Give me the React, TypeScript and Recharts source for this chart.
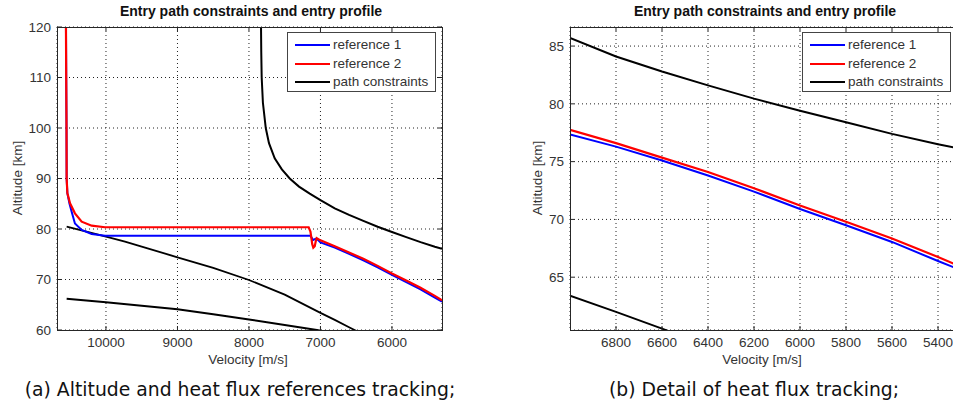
import { LineChart, Line, XAxis, YAxis, CartesianGrid } from 'recharts'

// velocity [m/s], altitude [km] pairs
const reference1: [number, number][] = [
  [10560, 121], [10556, 110], [10552, 100], [10550, 90], [10540, 87.1], [10510, 85],
  [10480, 83.4], [10434, 81.1], [10340, 79.8], [10200, 79.0], [10014, 78.67],
  [9000, 78.67], [8000, 78.67], [7140, 78.67], [7120, 78.2], [7105, 77.8], [7080, 78.0],
  [7055, 78.1], [7000, 77.35], [6800, 76.3], [6600, 75.1], [6400, 73.8], [6200, 72.4],
  [6000, 70.9], [5800, 69.5], [5600, 68.05], [5400, 66.4], [5300, 65.6],
]

const reference2: [number, number][] = [
  [10560, 121], [10556, 110], [10552, 100], [10550, 90], [10540, 87.1], [10503, 85.1],
  [10434, 83.1], [10340, 81.45], [10200, 80.65], [10014, 80.35], [9000, 80.35],
  [8000, 80.35], [7165, 80.35], [7140, 79.5], [7115, 77], [7100, 76.3], [7080, 76.6],
  [7065, 77.6], [7053, 78.2], [7000, 77.75], [6800, 76.6], [6600, 75.35], [6400, 74.1],
  [6200, 72.7], [6000, 71.2], [5800, 69.8], [5600, 68.35], [5400, 66.75], [5300, 65.9],
]

const upperConstraint: [number, number][] = [
  [7832, 121], [7828, 115], [7822, 110], [7805, 105], [7765, 100], [7720, 97], [7640, 94],
  [7540, 91.8], [7430, 90], [7300, 88.4], [7150, 87], [7000, 85.7], [6800, 84.1],
  [6600, 82.8], [6400, 81.6], [6200, 80.45], [6000, 79.4], [5800, 78.4], [5600, 77.4],
  [5400, 76.5], [5300, 76.1],
]

const middleConstraint: [number, number][] = [
  [10550, 80.45], [10300, 79.6], [10000, 78.5], [9734, 77.5], [9500, 76.5], [9000, 74.4],
  [8500, 72.3], [8000, 69.9], [7500, 67.0], [7000, 63.4], [6800, 62.0], [6600, 60.55],
  [6400, 59.1],
]

const lowerConstraint: [number, number][] = [
  [10550, 66.2], [10000, 65.5], [9500, 64.8], [9000, 64.1], [8500, 63.1], [8000, 62.1],
  [7500, 61.0], [7050, 60.0], [6900, 59.6],
]

const leftXTicks = [10000, 9000, 8000, 7000, 6000]
const leftYTicks = [60, 70, 80, 90, 100, 110, 120]
const rightXTicks = [6800, 6600, 6400, 6200, 6000, 5800, 5600, 5400]
const rightYTicks = [65, 70, 75, 80, 85]

const legendItems = [
  { label: 'reference 1', color: '#0000ff' },
  { label: 'reference 2', color: '#ff0000' },
  { label: 'path constraints', color: '#000000' },
]

const toRows = (pts: [number, number][]) => pts.map(([v, h]) => ({ v, h }))

const tickFont = { fontFamily: '"Liberation Sans", Arial, sans-serif', fontSize: 13.5, fill: '#333' }

interface PanelProps {
  left: number
  width: number
  marginLeft: number
  marginRight: number
  xDomain: [number, number]
  yDomain: [number, number]
  xTicks: number[]
  yTicks: number[]
  legendLeft: number
  legendWidth: number
}

const PLOT_TOP = 27
const PLOT_BOTTOM = 330

function Panel(p: PanelProps) {
  const plotLeft = p.marginLeft + 40
  const plotRight = p.width - p.marginRight

  // MATLAB-style inward ticks on all four sides
  const XTick = ({ x, y, payload }: any) => (
    <g>
      <line x1={x} x2={x} y1={PLOT_BOTTOM} y2={PLOT_BOTTOM - 4} stroke="#262626" />
      <line x1={x} x2={x} y1={PLOT_TOP} y2={PLOT_TOP + 4} stroke="#262626" />
      <text x={x} y={y} dy="0.71em" textAnchor="middle" {...tickFont}>{payload.value}</text>
    </g>
  )
  const YTick = ({ x, y, payload }: any) => (
    <g>
      <line x1={plotLeft} x2={plotLeft + 4} y1={y} y2={y} stroke="#262626" />
      <line x1={plotRight} x2={plotRight - 4} y1={y} y2={y} stroke="#262626" />
      <text x={x} y={y} dy="0.355em" textAnchor="end" {...tickFont}>{payload.value}</text>
    </g>
  )

  return (
    <div style={{ position: 'absolute', left: p.left, top: 0, width: p.width, height: 360 }}>
      <LineChart
        width={p.width}
        height={360}
        margin={{ top: PLOT_TOP, right: p.marginRight, bottom: 0, left: p.marginLeft }}
      >
        <CartesianGrid stroke="#222" strokeDasharray="1 3" />
        <XAxis
          dataKey="v"
          type="number"
          domain={p.xDomain}
          reversed
          allowDataOverflow
          ticks={p.xTicks}
          interval={0}
          height={30}
          axisLine={false}
          tickLine={false}
          tickSize={4}
          tickMargin={3}
          tick={XTick}
        />
        <YAxis
          type="number"
          domain={p.yDomain}
          allowDataOverflow
          ticks={p.yTicks}
          interval={0}
          width={40}
          axisLine={false}
          tickLine={false}
          tickSize={3}
          tickMargin={3}
          tick={YTick}
        />
        <Line data={toRows(upperConstraint)} dataKey="h" stroke="#000" strokeWidth={2} dot={false} isAnimationActive={false} />
        <Line data={toRows(middleConstraint)} dataKey="h" stroke="#000" strokeWidth={1.8} dot={false} isAnimationActive={false} />
        <Line data={toRows(lowerConstraint)} dataKey="h" stroke="#000" strokeWidth={2} dot={false} isAnimationActive={false} />
        <Line data={toRows(reference1)} dataKey="h" stroke="#0000ff" strokeWidth={2} dot={false} isAnimationActive={false} />
        <Line data={toRows(reference2)} dataKey="h" stroke="#ff0000" strokeWidth={2.2} dot={false} isAnimationActive={false} />
      </LineChart>
      <div
        style={{
          position: 'absolute',
          left: plotLeft - 0.5,
          top: PLOT_TOP - 0.5,
          width: plotRight - plotLeft + 1,
          height: PLOT_BOTTOM - PLOT_TOP + 1,
          boxSizing: 'border-box',
          border: '1px solid #262626',
          pointerEvents: 'none',
        }}
      />
      <div
        style={{
          position: 'absolute',
          left: p.legendLeft,
          top: 32,
          boxSizing: 'border-box',
          width: p.legendWidth,
          height: 60,
          background: '#fff',
          border: '1px solid #444',
          padding: '3px 0 0 7px',
        }}
      >
        {legendItems.map((it) => (
          <div key={it.label} style={{ display: 'flex', alignItems: 'center', height: 18.5 }}>
            <span style={{ display: 'inline-block', width: 35, height: 2, background: it.color }} />
            <span
              style={{
                marginLeft: 3,
                fontFamily: tickFont.fontFamily,
                fontSize: tickFont.fontSize,
                color: '#333',
                lineHeight: '18px',
                whiteSpace: 'nowrap',
              }}
            >
              {it.label}
            </span>
          </div>
        ))}
      </div>
    </div>
  )
}

const titleStyle: React.CSSProperties = {
  position: 'absolute',
  top: 3,
  transform: 'translateX(-50%)',
  whiteSpace: 'nowrap',
  fontFamily: '"Liberation Sans", Arial, sans-serif',
  fontWeight: 'bold',
  fontSize: 14,
  color: '#111',
}

const labelStyle: React.CSSProperties = {
  position: 'absolute',
  whiteSpace: 'nowrap',
  fontFamily: '"Liberation Sans", Arial, sans-serif',
  fontSize: 13.5,
  color: '#333',
}

const captionStyle: React.CSSProperties = {
  position: 'absolute',
  top: 379,
  transform: 'translateX(-50%)',
  whiteSpace: 'nowrap',
  fontFamily: '"DejaVu Sans", sans-serif',
  fontSize: 18.8,
  color: '#111',
}

export default function App() {
  return (
    <div style={{ position: 'absolute', left: 0, top: 0, width: 953, height: 411, overflow: 'hidden', background: '#fff' }}>
      <Panel
        left={0}
        width={460}
        marginLeft={17}
        marginRight={18}
        xDomain={[5300, 10685]}
        yDomain={[60, 120]}
        xTicks={leftXTicks}
        yTicks={leftYTicks}
        legendLeft={287}
        legendWidth={149}
      />
      <Panel
        left={480}
        width={481}
        marginLeft={50}
        marginRight={0}
        xDomain={[5300, 7000]}
        yDomain={[60.43, 86.65]}
        xTicks={rightXTicks}
        yTicks={rightYTicks}
        legendLeft={322}
        legendWidth={149}
      />

      <div style={{ ...titleStyle, left: 251 }}>Entry path constraints and entry profile</div>
      <div style={{ ...titleStyle, left: 765 }}>Entry path constraints and entry profile</div>

      <div style={{ ...labelStyle, left: 248, top: 352, transform: 'translateX(-50%)' }}>Velocity [m/s]</div>
      <div style={{ ...labelStyle, left: 762, top: 352, transform: 'translateX(-50%)' }}>Velocity [m/s]</div>

      <div style={{ ...labelStyle, left: 17, top: 178, transform: 'translate(-50%, -50%) rotate(-90deg)' }}>Altitude [km]</div>
      <div style={{ ...labelStyle, left: 537, top: 178, transform: 'translate(-50%, -50%) rotate(-90deg)' }}>Altitude [km]</div>

      <div style={{ ...captionStyle, left: 240 }}>(a) Altitude and heat flux references tracking;</div>
      <div style={{ ...captionStyle, left: 754 }}>(b) Detail of heat flux tracking;</div>
    </div>
  )
}
